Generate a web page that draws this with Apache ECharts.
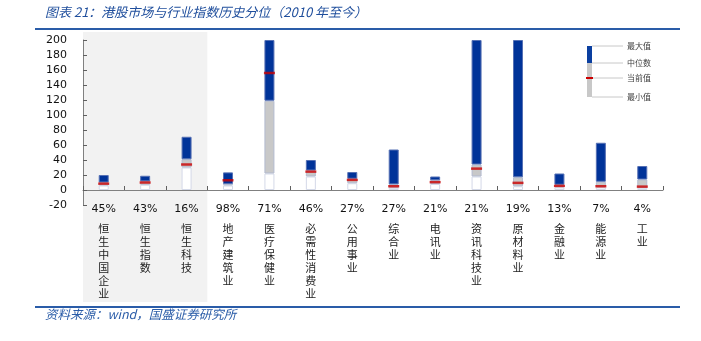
<!DOCTYPE html>
<html><head><meta charset="utf-8">
<script src="https://cdn.jsdelivr.net/npm/echarts@6/dist/echarts.min.js"></script>
<style>html,body{margin:0;padding:0;background:#fff}#c{width:701px;height:341px}</style>
</head><body><div id="c"></div>
<script>
const categories = ['恒生中国企业','恒生指数','恒生科技','地产建筑业','医疗保健业','必需性消费业','公用事业','综合业','电讯业','资讯科技业','原材料业','金融业','能源业','工业'];
const percentiles = ['45%','43%','16%','98%','71%','46%','27%','27%','21%','21%','19%','13%','7%','4%'];
const maxValues = [20, 19, 71, 23.5, 200, 40, 24, 54, 18, 200, 200, 22, 63, 32];
const medianValues = [10, 11.5, 41, 8, 119, 26, 15, 7.5, 13, 34, 17, 7, 11, 14];
const currentValues = [8.5, 10, 34, 13, 156, 24.5, 13.5, 5, 10.5, 28.5, 9.5, 5.5, 5, 4.5];
const minValues = [6, 7, 30, 6, 22, 18, 9, 3, 8, 18, 5, 3.5, 3.5, 3];
const legendLabels = ['最大值','中位数','当前值','最小值'];
const titleText = '图表 21：港股市场与行业指数历史分位（2010 年至今）';
const sourceText = '资料来源：wind，国盛证券研究所';

const grayPart = medianValues.map((m, i) => +(m - minValues[i]).toFixed(2));
const bluePart = maxValues.map((m, i) => +(m - medianValues[i]).toFixed(2));

const chart = echarts.init(document.getElementById('c'), null, {renderer: 'canvas'});
const numFont = 'DejaVu Sans';
const cjkFont = 'Noto Sans CJK SC';

chart.setOption({
  animation: false,
  grid: {left: 83, right: 38, top: 40, bottom: 136, containLabel: false},
  xAxis: {
    type: 'category',
    data: categories,
    axisLine: {onZero: true, lineStyle: {color: '#808080', width: 1}},
    axisTick: {show: true, inside: true, length: 4, lineStyle: {color: '#606060'}},
    axisLabel: {
      interval: 0,
      margin: 3,
      formatter: function (v, i) {
        return '{p|' + percentiles[i] + '}\n' + v.split('').map(ch => '{c|' + ch + '}').join('\n');
      },
      rich: {
        p: {fontFamily: numFont, fontSize: 11, color: '#111', lineHeight: 14, padding: [0, 0, 11, 0]},
        c: {fontFamily: cjkFont, fontSize: 11, color: '#222', lineHeight: 13}
      }
    }
  },
  yAxis: {
    type: 'value',
    min: -20, max: 200, interval: 20,
    axisLine: {show: true, lineStyle: {color: '#808080'}},
    axisTick: {show: true, inside: true, length: 4, lineStyle: {color: '#606060'}},
    splitLine: {show: false},
    axisLabel: {fontFamily: numFont, fontSize: 11, color: '#111', margin: 16}
  },
  series: [
    {type: 'bar', stack: 'a', data: minValues, barWidth: 10,
     itemStyle: {color: '#ffffff', borderColor: '#d4d9e8', borderWidth: 1}},
    {type: 'bar', stack: 'a', data: grayPart, barWidth: 10,
     itemStyle: {color: '#c8c8c8', borderColor: '#b3bbd0', borderWidth: 1}},
    {type: 'bar', stack: 'a', data: bluePart, barWidth: 10,
     itemStyle: {color: '#003399', borderColor: '#5570b4', borderWidth: 1}},
    {type: 'scatter', data: currentValues, symbol: 'rect', symbolSize: [11, 2.5], z: 5,
     itemStyle: {color: '#cc0000'}}
  ]
});

const c0 = chart.convertToPixel({xAxisIndex: 0}, 0);
const c1 = chart.convertToPixel({xAxisIndex: 0}, 1);
const c2 = chart.convertToPixel({xAxisIndex: 0}, 2);
const band = c1 - c0;
const shadeLeft = c0 - band / 2;
const shadeRight = c2 + band / 2;

const lgX = 587, lgW = 5;
const lgY = [46, 63, 78, 97];
const graphics = [
  {type: 'rect', z: -10, silent: true, shape: {x: shadeLeft, y: 32, width: shadeRight - shadeLeft, height: 270}, style: {fill: '#f2f2f2'}},
  {type: 'text', left: 45, top: 6, style: {text: titleText, font: 'italic 13px "Noto Sans CJK SC"', fill: '#1f4e9c'}},
  {type: 'line', shape: {x1: 35, y1: 29, x2: 680, y2: 29}, style: {stroke: '#2a5ca8', lineWidth: 2}},
  {type: 'line', shape: {x1: 35, y1: 307, x2: 680, y2: 307}, style: {stroke: '#2a5ca8', lineWidth: 2}},
  {type: 'text', left: 45, top: 308, style: {text: sourceText, font: 'italic 12.5px "Noto Sans CJK SC"', fill: '#2a5ca8'}},
  {type: 'rect', shape: {x: lgX, y: lgY[0], width: lgW, height: lgY[1] - lgY[0]}, style: {fill: '#0a3fa0'}},
  {type: 'rect', shape: {x: lgX, y: lgY[1], width: lgW, height: lgY[3] - lgY[1]}, style: {fill: '#c8c8c8'}},
  {type: 'rect', z: 5, shape: {x: lgX - 1, y: lgY[2] - 1, width: lgW + 2, height: 2}, style: {fill: '#cc0000'}}
];
lgY.forEach((y, i) => {
  graphics.push({type: 'line', shape: {x1: lgX + lgW, y1: y, x2: 623, y2: y}, style: {stroke: '#c8c8c8', lineWidth: 1}});
  graphics.push({type: 'text', x: 627, y: y, style: {text: legendLabels[i], font: '8px "Noto Sans CJK SC"', fill: '#404040', verticalAlign: 'middle'}});
});
chart.setOption({graphic: graphics});
</script>
</body></html>
